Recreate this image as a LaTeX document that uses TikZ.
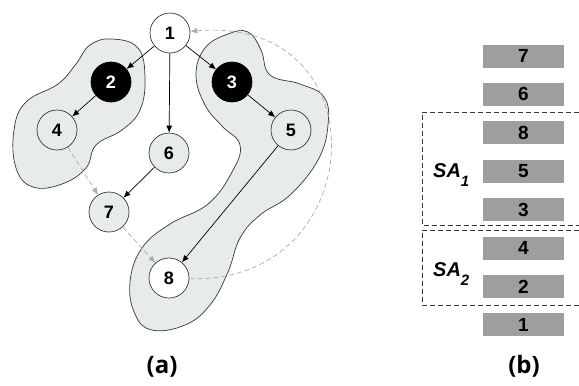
\documentclass[tikz,border=0pt]{standalone}
\usepackage{fontspec}
\setmainfont{Liberation Sans}
\newfontfamily\capfont{Open Sans}
\usetikzlibrary{arrows.meta,positioning}
\definecolor{blobgray}{RGB}{232,235,236}
\definecolor{slotgray}{RGB}{158,158,158}
\definecolor{linkgray}{RGB}{172,172,172}
\definecolor{rimgray}{RGB}{55,55,55}
% dropped index after a group name
\newcommand{\grpidx}[1]{\raisebox{-9pt}{\fontsize{15}{15}\selectfont #1}}

\begin{document}
\begin{tikzpicture}[
  x=1pt,y=-1pt,
  node distance=15pt,
  vtx/.style={
    circle,
    draw=rimgray,
    line width=0.7pt,
    minimum size=40pt,
    inner sep=0pt,
    fill=white,
    font=\bfseries\fontsize{18}{18}\selectfont
  },
  vtxpale/.style={vtx,fill=blobgray},
  vtxdark/.style={vtx,fill=black,draw=black,text=white},
  slot/.style={
    fill=slotgray,
    minimum width=81pt,
    minimum height=23pt,
    inner sep=0pt,
    font=\bfseries\fontsize{19}{19}\selectfont
  },
  blob/.style={draw=rimgray,line width=0.7pt,fill=blobgray},
  arrow/.style={-{Latex[length=7pt,width=6pt]},line width=0.7pt},
  link/.style={-{Latex[length=7pt,width=6pt]},linkgray,line width=0.7pt,dash pattern=on 5pt off 3pt},
  group/.style={rimgray,line width=0.6pt,dash pattern=on 5pt off 3pt},
  tag/.style={anchor=base west,inner sep=0pt,font=\bfseries\itshape\fontsize{20}{20}\selectfont}
]
\useasboundingbox (0,0) rectangle (579,386);

% regions behind the graph
\draw[blob] plot[smooth cycle,tension=0.7] coordinates {
  (112,39) (138,48) (145,78) (140,110) (122,130) (96,145) (86,168)
  (62,184) (33,187) (16,168) (14,130) (26,102) (58,84) (76,64) (90,45)};
\draw[blob] plot[smooth cycle,tension=0.7] coordinates {
  (248,32) (261,50) (270,75) (300,84) (324,97) (328,125) (318,160)
  (290,195) (260,215) (240,238) (228,272) (210,305) (185,325) (152,330)
  (135,314) (130,282) (142,248) (170,224) (208,204) (232,172) (240,145)
  (222,126) (205,105) (196,75) (205,48) (228,34)};

% graph
\node[vtx] (n1) at (170,33) {1};
\node[vtxdark] (n2) at (111,82) {2};
\node[vtxdark] (n3) at (232,82) {3};
\node[vtxpale] (n4) at (57,130) {4};
\node[vtxpale] (n5) at (291,130) {5};
\node[vtxpale] (n6) at (169,153) {6};
\node[vtxpale] (n7) at (109,212) {7};
\node[vtx] (n8) at (169,278) {8};

\draw[arrow] (n1) -- (n2);
\draw[arrow] (n1) -- (n3);
\draw[arrow] (n1) -- (n6);
\draw[arrow] (n2) -- (n4);
\draw[arrow] (n3) -- (n5);
\draw[arrow] (n6) -- (n7);
\draw[arrow] (n5) -- (n8);
\draw[link] (n4) -- (n7);
\draw[link] (n7) -- (n8);
\draw[link] (n8) .. controls (370,285) and (385,15) .. (n1);

% stack
\node[slot] (s7) at (523.5,56) {7};
\node[slot,below=of s7] (s6) {6};
\node[slot,below=of s6] (s8) {8};
\node[slot,below=of s8] (s5) {5};
\node[slot,below=of s5] (s3) {3};
\node[slot,below=of s3] (s4) {4};
\node[slot,below=of s4] (s2) {2};
\node[slot,below=of s2] (s1) {1};

\draw[group] (579,112) -| (422,225) -- (579,225);
\draw[group] (579,230) -| (422,305) -- (579,305);
\node[tag] (sa1) at (433,177) {SA\grpidx{1}};
\node[tag] (sa2) at (433,276) {SA\grpidx{2}};

\node[font=\capfont\bfseries\fontsize{24}{24}\selectfont] (capa) at (162,367) {(a)};
\node[font=\capfont\bfseries\fontsize{24}{24}\selectfont] (capb) at (524,366) {(b)};
\end{tikzpicture}
\end{document}
